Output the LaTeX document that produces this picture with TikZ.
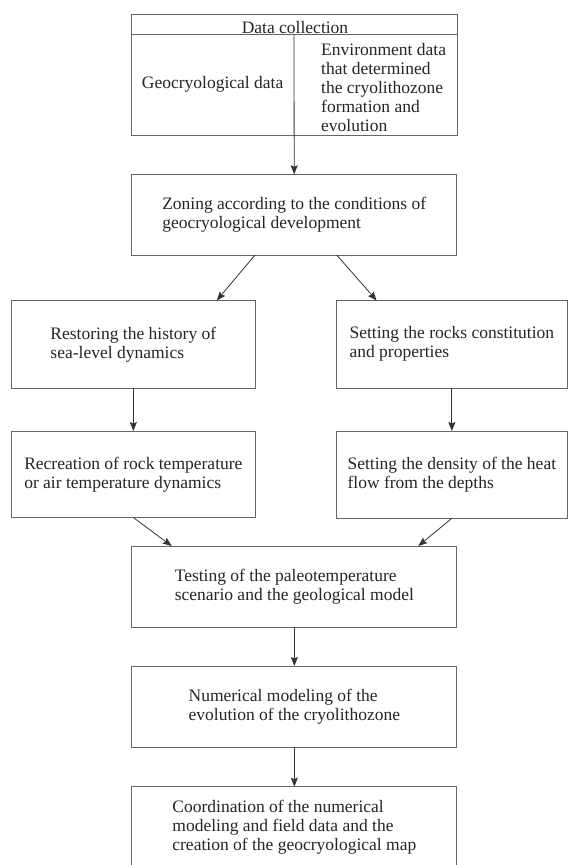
\documentclass[tikz,border=0pt]{standalone}
\usepackage{fontspec}
\setmainfont{Liberation Serif}
\usetikzlibrary{arrows.meta,calc}
\begin{document}
\begin{tikzpicture}[x=1pt,y=-1pt,
  box/.style={draw=black!60, line width=1pt, rectangle, inner sep=0pt, outer sep=0pt},
  txt/.style={align=left, font=\fontsize{17.5}{19}\selectfont, inner sep=0pt, text=black!85},
  arr/.style={draw=black!80, line width=0.8pt, -{Stealth[length=9pt,width=7pt,inset=1.5pt]}}
]
\useasboundingbox[fill=white] (0,0) rectangle (569,865);

% top box
\node[box, minimum width=325.5pt, minimum height=120.3pt] (top) at (294.25,74.85) {};
\coordinate (split) at (294,34.7);
\draw[black!60, line width=1pt] (top.west |- split) -- (top.east |- split);
\node[txt, anchor=base] (dc) at (295,33) {Data collection};
\node[txt] (geo) at (212.6,84.5) {Geocryological data};
\node[txt, anchor=west] (env) at (321,87.5) {Environment data\\that determined\\the cryolithozone\\formation and\\evolution};

% central boxes
\node[box, txt, minimum width=325pt, minimum height=80.7pt] (zone) at (294.2,214.65)
  {Zoning according to the conditions of\\geocryological development};
\node[box, txt, minimum width=243.3pt, minimum height=87.5pt] (rest) at (133.35,344.25)
  {Restoring the history of\\sea-level dynamics};
\node[box, txt, minimum width=230.3pt, minimum height=87.5pt] (rocks) at (451.85,344.25)
  {Setting the rocks constitution\\and properties};
\node[box, txt, minimum width=243.3pt, minimum height=86.5pt] (recr) at (133.35,474.25)
  {Recreation of rock temperature\\or air temperature dynamics};
\node[box, txt, minimum width=230.3pt, minimum height=87.2pt] (dens) at (451.85,474.6)
  {Setting the density of the heat\\flow from the depths};
\node[box, txt, minimum width=325pt, minimum height=81pt] (test) at (294.35,586.5)
  {Testing of the paleotemperature\\scenario and the geological model};
\node[box, txt, minimum width=325pt, minimum height=81.3pt] (num) at (294.35,706.65)
  {Numerical modeling of the\\evolution of the cryolithozone};
\node[box, txt, minimum width=325pt, minimum height=81.3pt] (coord) at (294.35,827.35)
  {Coordination of the numerical\\modeling and field data and the\\creation of the geocryological map};

% connectors
\draw[arr] (split) -- (zone.north);
\draw[arr] (zone.south -| rest.east) -- ($(rest.north)+(83.4,0)$);
\draw[arr] (zone.south -| rocks.west) -- ($(rocks.north)+(-75.2,0)$);
\draw[arr] (rest.south) -- (recr.north);
\draw[arr] (rocks.south) -- (dens.north);
\draw[arr] (recr.south) -- ($(test.north)+(-122.6,0)$);
\draw[arr] (dens.south) -- ($(test.north)+(124,0)$);
\draw[arr] (test.south) -- (num.north);
\draw[arr] (num.south) -- (coord.north);
\end{tikzpicture}
\end{document}
